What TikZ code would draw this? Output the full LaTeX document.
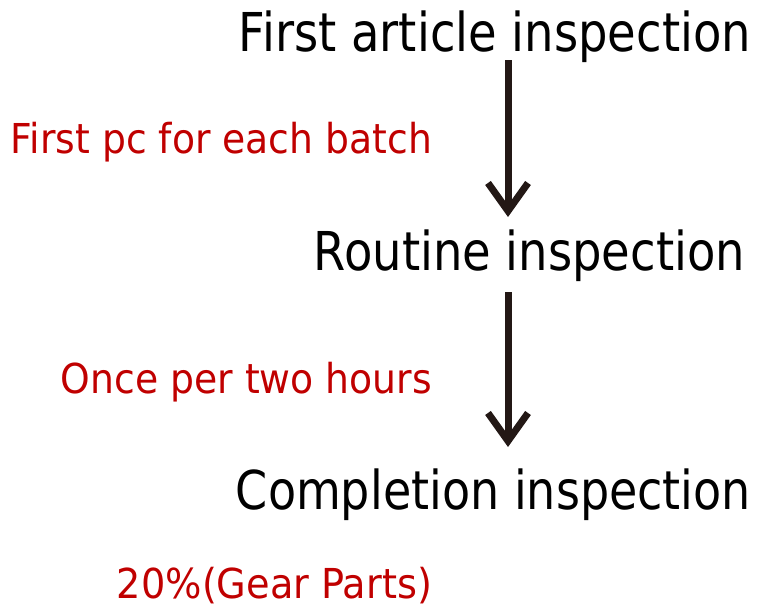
\documentclass[tikz,border=0pt]{standalone}
\usepackage{fontspec}
\setmainfont{DejaVu Sans}
\usetikzlibrary{arrows.meta}
\newlength\px \setlength\px{0.75pt}
\definecolor{arrowdark}{HTML}{231815}
\definecolor{notered}{HTML}{C00000}
\newcommand\fittext[3]{\resizebox{#1\px}{#2\px}{#3}}
\tikzset{
  stagebox/.style={inner sep=0pt, outer sep=0pt, anchor=base east, text=black},
  notebox/.style={inner sep=0pt, outer sep=0pt, anchor=base east, text=notered},
  flowarrow/.style={draw=arrowdark, line width=5.25pt,
    -{Straight Barb[length=21pt,width=30pt]}},
}
\begin{document}
\begin{tikzpicture}[x=0.75pt,y=-0.75pt]
\useasboundingbox (0,0) rectangle (757,607);
\node[stagebox] (fai) at (751,51) {\fittext{512}{40.7}{First article inspection}};
\node[stagebox] (ri) at (745,270) {\fittext{431}{40.7}{Routine inspection}};
\node[stagebox] (ci) at (751,509) {\fittext{515}{40.7}{Completion inspection}};
\node[notebox] (n1) at (432,153) {\fittext{421}{31.3}{First pc for each batch}};
\node[notebox] (n2) at (432,393) {\fittext{371}{31.3}{Once per two hours}};
\node[notebox] (n3) at (432,598) {\fittext{315}{31.3}{20\%(Gear Parts)}};
\coordinate (a1s) at (508,60);
\coordinate (a1e) at (508,217);
\coordinate (a2s) at (508,292);
\coordinate (a2e) at (508,447);
\draw[flowarrow] (a1s) -- (a1e);
\draw[flowarrow] (a2s) -- (a2e);
\end{tikzpicture}
\end{document}
